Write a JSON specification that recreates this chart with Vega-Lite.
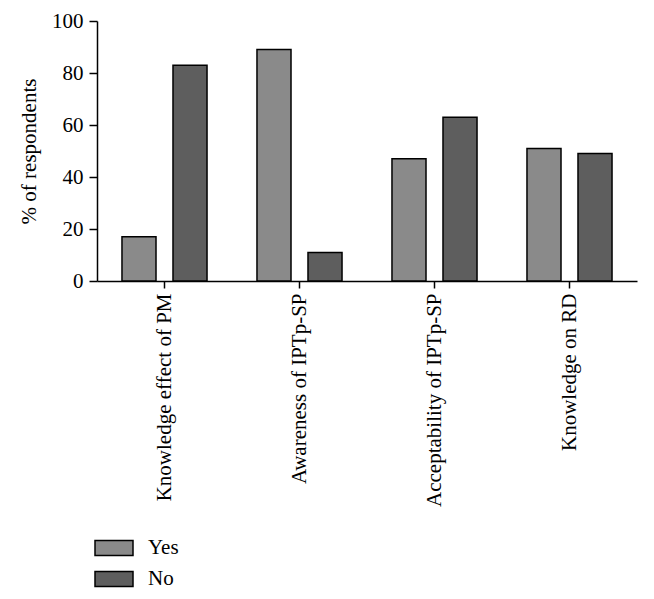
{
  "$schema": "https://vega.github.io/schema/vega-lite/v6.json",
  "width": 540,
  "height": 260,
  "autosize": {"type": "none"},
  "padding": {"left": 97, "top": 21, "right": 17, "bottom": 318},
  "data": {
    "values": [
      {"item": "Knowledge effect of PM", "answer": "Yes", "pct": 17},
      {"item": "Knowledge effect of PM", "answer": "No", "pct": 83},
      {"item": "Awareness of IPTp-SP", "answer": "Yes", "pct": 89},
      {"item": "Awareness of IPTp-SP", "answer": "No", "pct": 11},
      {"item": "Acceptability of IPTp-SP", "answer": "Yes", "pct": 47},
      {"item": "Acceptability of IPTp-SP", "answer": "No", "pct": 63},
      {"item": "Knowledge on RD", "answer": "Yes", "pct": 51},
      {"item": "Knowledge on RD", "answer": "No", "pct": 49}
    ]
  },
  "mark": {"type": "bar", "stroke": "#000000", "strokeWidth": 1.5},
  "encoding": {
    "x": {
      "field": "item",
      "type": "nominal",
      "sort": null,
      "scale": {"paddingInner": 0.37, "paddingOuter": 0.185},
      "axis": {
        "title": null,
        "labelAngle": 270,
        "labelAlign": "right",
        "labelBaseline": "middle",
        "labelPadding": 5,
        "labelLimit": 0,
        "tickSize": 7
      }
    },
    "xOffset": {
      "field": "answer",
      "type": "nominal",
      "sort": ["Yes", "No"],
      "scale": {"paddingInner": 0.333, "paddingOuter": 0}
    },
    "y": {
      "field": "pct",
      "type": "quantitative",
      "scale": {"domain": [0, 100], "nice": false},
      "axis": {
        "title": "% of respondents",
        "values": [0, 20, 40, 60, 80, 100],
        "tickSize": 8,
        "labelPadding": 6,
        "titlePadding": 12,
        "grid": false
      }
    },
    "fill": {
      "field": "answer",
      "type": "nominal",
      "sort": ["Yes", "No"],
      "scale": {"domain": ["Yes", "No"], "range": ["#8a8a8a", "#5e5e5e"]},
      "legend": {
        "title": null,
        "orient": "none",
        "legendX": -3,
        "legendY": 507,
        "symbolType": "M-1,-0.4H1V0.4H-1Z",
        "symbolSize": 1444,
        "symbolStrokeColor": "#000000",
        "symbolStrokeWidth": 1.5,
        "symbolOpacity": 1,
        "labelOffset": 14,
        "rowPadding": -12,
        "padding": 0,
        "labelFont": "Liberation Serif",
        "labelFontSize": 21,
        "labelColor": "#000000"
      }
    }
  },
  "config": {
    "view": {"stroke": null},
    "font": "Liberation Serif",
    "axis": {
      "labelFont": "Liberation Serif",
      "labelFontSize": 21,
      "labelColor": "#000000",
      "titleFont": "Liberation Serif",
      "titleFontSize": 21,
      "titleFontWeight": "normal",
      "titleColor": "#000000",
      "domainColor": "#000000",
      "domainWidth": 1.5,
      "tickColor": "#000000",
      "tickWidth": 1.5
    }
  }
}
